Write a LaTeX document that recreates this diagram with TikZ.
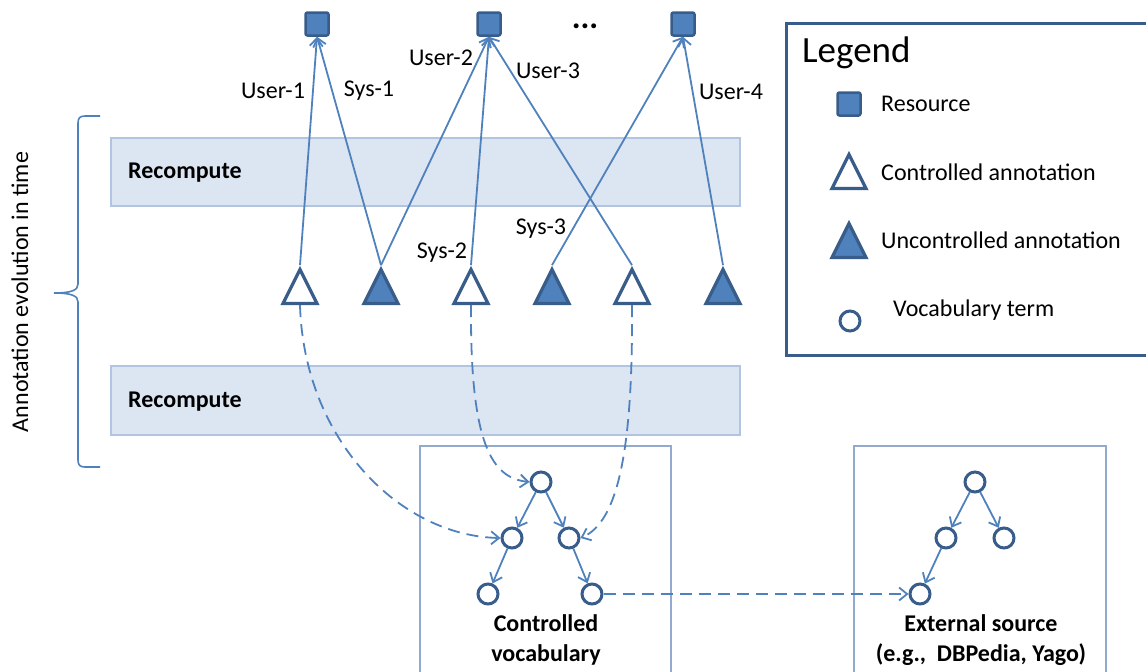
\documentclass[tikz,border=0pt]{standalone}
\usepackage{fontspec}
\setmainfont{Carlito}
\usetikzlibrary{arrows.meta,shapes.geometric}
\definecolor{acc}{RGB}{79,129,189}
\definecolor{edgeblue}{RGB}{56,93,138}
\definecolor{bandfill}{RGB}{220,229,242}
\definecolor{bandline}{RGB}{178,197,224}
\definecolor{boxline}{RGB}{145,170,205}
\begin{document}
\begin{tikzpicture}[x=1pt,y=-1pt,
  res/.style={draw=edgeblue,fill=acc,line width=2.5pt,rounded corners=2pt,minimum size=23pt,inner sep=0pt},
  tri/.style={isosceles triangle,isosceles triangle stretches,shape border rotate=90,
    minimum width=34pt,minimum height=34pt,inner sep=0pt,draw=edgeblue,line width=3.3pt},
  ctri/.style={tri,fill=white},
  utri/.style={tri,fill=acc},
  term/.style={circle,draw=edgeblue,line width=3pt,fill=white,minimum size=20pt,inner sep=0pt},
  link/.style={draw=acc,line width=1.8pt,-{Straight Barb[length=8pt,width=13pt]}},
  dlink/.style={link,dash pattern=on 12pt off 7pt},
  lbl/.style={font=\fontsize{24}{28}\selectfont,inner sep=0pt},
  band/.style={draw=bandline,fill=bandfill,line width=1.2pt},
  bandtext/.style={font=\fontsize{24}{28}\selectfont\bfseries,inner sep=0pt,anchor=west},
  frame/.style={draw=boxline,line width=1.5pt},
  boxtext/.style={font=\fontsize{24}{30}\selectfont\bfseries,align=center,inner sep=0pt},
  legtext/.style={font=\fontsize{24}{28}\selectfont,inner sep=0pt,anchor=west}
]
\useasboundingbox (0,0) rectangle (1146,672);

% time bands
\draw[band] (111,138) rectangle (740,206);
\draw[band] (111,366) rectangle (740,435);
\node[bandtext] (rc1) at (128,173) {Recompute};
\node[bandtext] (rc2) at (128,402) {Recompute};

% time axis with brace
\draw[acc,line width=1.6pt] (100,116) -- (85,116) .. controls (80,116) and (78,118) .. (78,123)
  -- (78,284) .. controls (78,290) and (72,293) .. (54,293)
  .. controls (72,293) and (78,296) .. (78,302)
  -- (78,460) .. controls (78,465) and (80,467) .. (85,467) -- (100,467);
\node[font=\fontsize{24}{28}\selectfont,rotate=90,inner sep=0pt] (axis) at (20,292) {Annotation evolution in time};

% resources
\node[res] (s1) at (317,24) {};
\node[res] (s2) at (489,24) {};
\node[res] (s3) at (683,24) {};
\node[font=\fontsize{33}{36}\selectfont\bfseries,inner sep=0pt] (dots) at (585,26) {...};

% annotations
\node[ctri] (t1) at (300,293) {};
\node[utri] (t2) at (381,293) {};
\node[ctri] (t3) at (471,293) {};
\node[utri] (t4) at (552,293) {};
\node[ctri] (t5) at (632,293) {};
\node[utri] (t6) at (723,293) {};

\draw[link] (t1.north) -- (s1.south);
\draw[link] (t2.north) -- (s1.south);
\draw[link] (t2.north) -- (s2.south);
\draw[link] (t3.north) -- (s2.south);
\draw[link] (t5.north) -- (s2.south);
\draw[link] (t4.north) -- (s3.south);
\draw[link] (t6.north) -- (s3.south);

\node[lbl] (l1) at (273,91) {User-1};
\node[lbl] (l2) at (369,91) {Sys-1};
\node[lbl] (l3) at (441,58) {User-2};
\node[lbl] (l4) at (548,71) {User-3};
\node[lbl] (l5) at (731,92) {User-4};
\node[lbl] (l6) at (442,253) {Sys-2};
\node[lbl] (l7) at (541,229) {Sys-3};

% controlled vocabulary
\draw[frame] (420,672) -- (420,446) -- (671,446) -- (671,672);
\node[term] (c0) at (541,482) {};
\node[term] (c1) at (512,538) {};
\node[term] (c2) at (569,538) {};
\node[term] (c3) at (488,594) {};
\node[term] (c4) at (592,594) {};
\draw[link] (c0) -- (c1);
\draw[link] (c0) -- (c2);
\draw[link] (c1) -- (c3);
\draw[link] (c2) -- (c4);
\node[boxtext] (cvt) at (546,640) {Controlled\\vocabulary};

% external source
\draw[frame] (854,672) -- (854,446) -- (1106,446) -- (1106,672);
\node[term] (e0) at (975,482) {};
\node[term] (e1) at (946,538) {};
\node[term] (e2) at (1004,538) {};
\node[term] (e3) at (920,594) {};
\draw[link] (e0) -- (e1);
\draw[link] (e0) -- (e2);
\draw[link] (e1) -- (e3);
\node[boxtext] (ext) at (981,640) {External source\\(e.g.,~ DBPedia, Yago)};

% annotation to vocabulary mappings
\draw[dlink] (t1.south) .. controls (304,440) and (400,536) .. (c1.west);
\draw[dlink] (t3.south) .. controls (470,445) and (492,478) .. (c0.west);
\draw[dlink] (t5.south) .. controls (633,450) and (618,522) .. (c2.east);
\draw[dlink] (c4.east) -- (e3.west);

% legend
\draw[draw=edgeblue,line width=3pt] (1146,23) -- (786,23) -- (786,355) -- (1146,355);
\node[font=\fontsize{37}{42}\selectfont,inner sep=0pt,anchor=west] (legt) at (802,53) {Legend};
\node[res] (k1) at (849,104) {};
\node[ctri] (k2) at (849,178) {};
\node[utri] (k3) at (849,247) {};
\node[term] (k4) at (850,321) {};
\node[legtext] (k1t) at (881,104) {Resource};
\node[legtext] (k2t) at (881,172) {Controlled annotation};
\node[legtext] (k3t) at (881,240) {Uncontrolled annotation};
\node[legtext] (k4t) at (893,310) {Vocabulary term};
\end{tikzpicture}
\end{document}
